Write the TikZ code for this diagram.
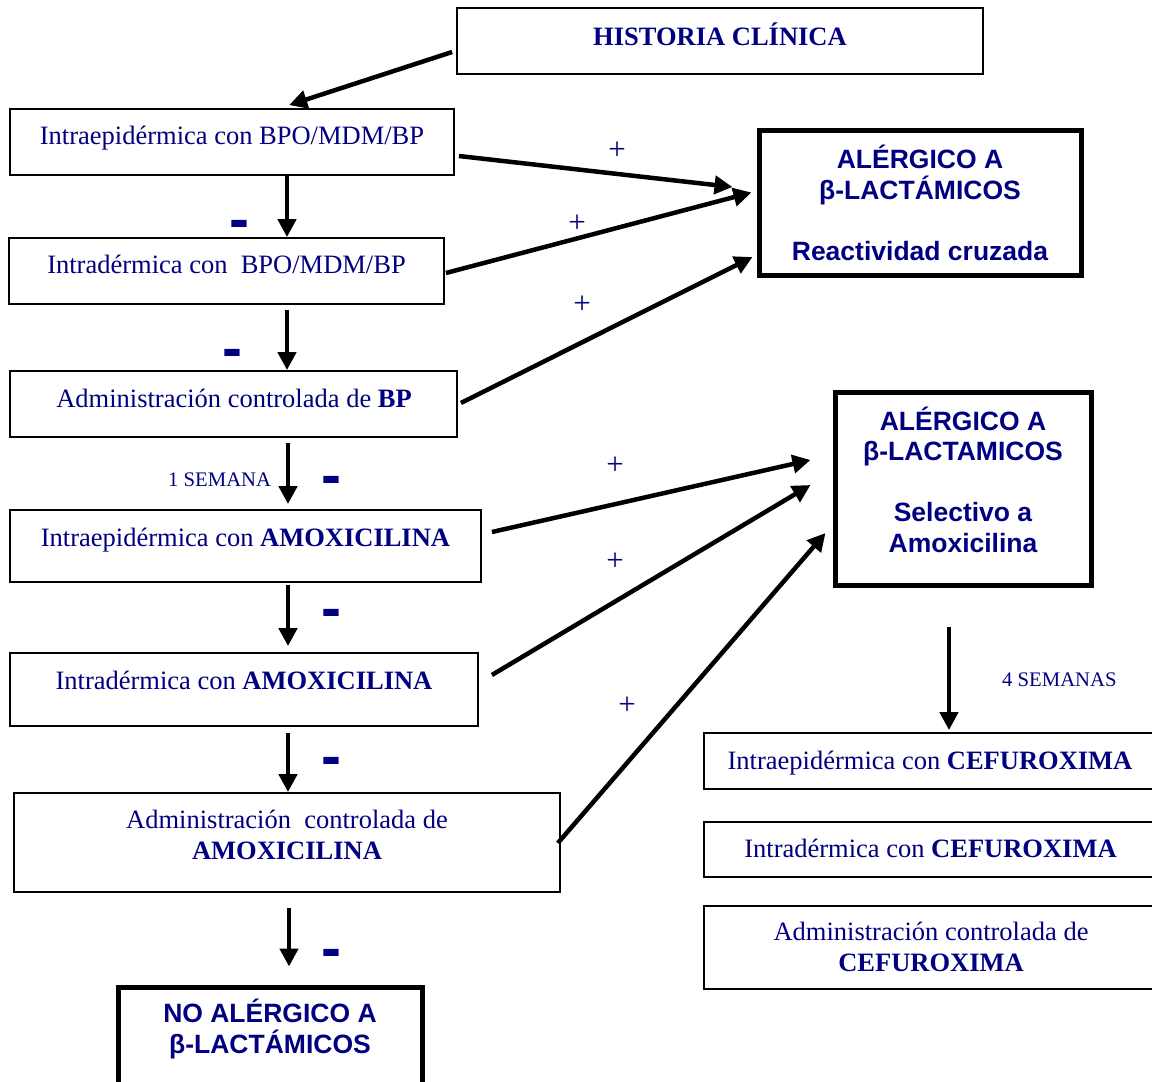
\documentclass[tikz,border=0pt]{standalone}
\usepackage{fontspec}
\setmainfont{Liberation Serif}
\setsansfont{Liberation Sans}
\usetikzlibrary{arrows.meta,calc}
\definecolor{navy}{RGB}{0,0,128}
\tikzset{
  box/.style={draw=black, line width=1.8pt, rectangle, inner sep=0pt},
  thickbox/.style={draw=black, line width=5pt, rectangle, inner sep=0pt},
  txt/.style={text=navy, font=\fontsize{26.5}{30.5}\selectfont, inner sep=0pt, anchor=base, align=center},
  stxt/.style={text=navy, font=\fontsize{20.7}{24}\selectfont, inner sep=0pt, anchor=base west},
  rtxt/.style={text=navy, font=\sffamily\bfseries\fontsize{26.5}{30.5}\selectfont, inner sep=0pt, anchor=base, align=center},
  plus/.style={text=navy, font=\fontsize{31}{32}\selectfont, inner sep=0pt},
  minus/.style={text=navy, font=\sffamily\bfseries\fontsize{60}{60}\selectfont, inner sep=0pt, anchor=base},
  arr/.style={line width=4.5pt, -{Triangle[length=18pt,width=18pt]}},
}
\begin{document}
\begin{tikzpicture}[x=1pt,y=-1pt]
\fill[white] (0,0) rectangle (1152,1082);
\useasboundingbox (0,0) rectangle (1152,1082);

% boxes
\node[box, minimum width=526, minimum height=66] (hc) at (720,41) {};
\node[box, minimum width=444, minimum height=66] (b1) at (232,142) {};
\node[box, minimum width=435, minimum height=66] (b2) at (226.5,271) {};
\node[box, minimum width=447, minimum height=66] (b3) at (233.5,404) {};
\node[box, minimum width=471, minimum height=72] (b4) at (245.5,546) {};
\node[box, minimum width=468, minimum height=73] (b5) at (244,689.5) {};
\node[box, minimum width=546, minimum height=99] (b6) at (287,842.5) {};
\node[thickbox, minimum width=304, minimum height=113] (b7) at (270,1043.5) {};
\node[thickbox, minimum width=322, minimum height=145] (r1) at (920,202.5) {};
\node[thickbox, minimum width=256, minimum height=193] (r2) at (963,488.5) {};
\node[box, minimum width=452, minimum height=56] (c1) at (930,761) {};
\node[box, minimum width=452, minimum height=55] (c2) at (930,849.5) {};
\node[box, minimum width=452, minimum height=83] (c3) at (930,947.5) {};

% texts (multi-line nodes are placed by their last baseline)
\node[txt] (thc) at (720,45) {\textbf{HISTORIA CLÍNICA}};
\node[txt] (tb1) at (232,144) {Intraepidérmica con BPO/MDM/BP};
\node[txt] (tb2) at (226.5,273) {Intradérmica con\ \ BPO/MDM/BP};
\node[txt] (tb3) at (234,407) {Administración controlada de \textbf{BP}};
\node[txt] (tb4) at (245.5,546) {Intraepidérmica con \textbf{AMOXICILINA}};
\node[txt] (tb5) at (244,689) {Intradérmica con \textbf{AMOXICILINA}};
\node[txt] (tb6) at (287,859) {Administración\ \ controlada de\\\textbf{AMOXICILINA}};
\node[rtxt] (tb7) at (270,1053) {NO ALÉRGICO A\\β-LACTÁMICOS};
\node[rtxt] (tr1) at (920,260) {ALÉRGICO A\\β-LACTÁMICOS\\[30.5pt]Reactividad cruzada};
\node[rtxt] (tr2) at (963,552) {ALÉRGICO A\\β-LACTAMICOS\\[30.5pt]Selectivo a\\Amoxicilina};
\node[txt] (tc1) at (930,769) {Intraepidérmica con \textbf{CEFUROXIMA}};
\node[txt] (tc2) at (930.5,857) {Intradérmica con \textbf{CEFUROXIMA}};
\node[txt] (tc3) at (931,971) {Administración controlada de\\\textbf{CEFUROXIMA}};
\node[stxt] (sem1) at (168,486) {1 SEMANA};
\node[stxt] (sem4) at (1002,686) {4 SEMANAS};

% minus signs
\node[minus] (m1) at (239,239) {-};
\node[minus] (m2) at (232,368) {-};
\node[minus] (m3) at (331,495) {-};
\node[minus] (m4) at (331,628) {-};
\node[minus] (m5) at (331,776) {-};
\node[minus] (m6) at (331,968) {-};

% plus signs
\node[plus] (p1) at (617,151) {+};
\node[plus] (p2) at (577,224) {+};
\node[plus] (p3) at (582,305) {+};
\node[plus] (p4) at (615,466) {+};
\node[plus] (p5) at (615,562) {+};
\node[plus] (p6) at (627,706) {+};

% vertical arrows
\coordinate (colA) at (287,0);
\coordinate (colB) at (288,0);
\coordinate (colC) at (289,0);
\coordinate (colR) at (949,0);
\draw[arr] ($(hc.west)+(-4,11)$) -- ($(b1.north west)+(280,-3)$);
\draw[arr] (b1.south -| colA) -- (b2.north -| colA);
\draw[arr] ($(b2.south -| colA)+(0,5)$) -- (b3.north -| colA);
\draw[arr] ($(b3.south -| colB)+(0,5)$) -- ($(b4.north -| colB)+(0,-5)$);
\draw[arr] ($(b4.south -| colB)+(0,2)$) -- ($(b5.north -| colB)+(0,-6)$);
\draw[arr] ($(b5.south -| colB)+(0,6)$) -- (b6.north -| colB);
\draw[arr] ($(b6.south -| colC)+(0,15)$) -- ($(b7.north -| colC)+(0,-18)$);
\draw[arr] ($(r2.south -| colR)+(0,39)$) -- ($(c1.north -| colR)+(0,-2)$);

% diagonal arrows
\draw[arr] ($(b1.east)+(4,14)$) -- ($(r1.west)+(-24,-15.5)$);
\draw[arr] ($(b2.east)+(1,2)$) -- ($(r1.west)+(-5,-10)$);
\draw[arr] ($(b3.east)+(3,-1)$) -- ($(r1.west)+(-4,54.5)$);
\draw[arr] ($(b4.east)+(10,-14)$) -- ($(r2.west)+(-22,-28.5)$);
\draw[arr] ($(b5.east)+(13,-14.5)$) -- ($(r2.west)+(-22,-3.5)$);
\draw[arr] ($(b6.east)+(-3,0.5)$) -- ($(r2.west)+(-7,44.5)$);
\end{tikzpicture}
\end{document}
